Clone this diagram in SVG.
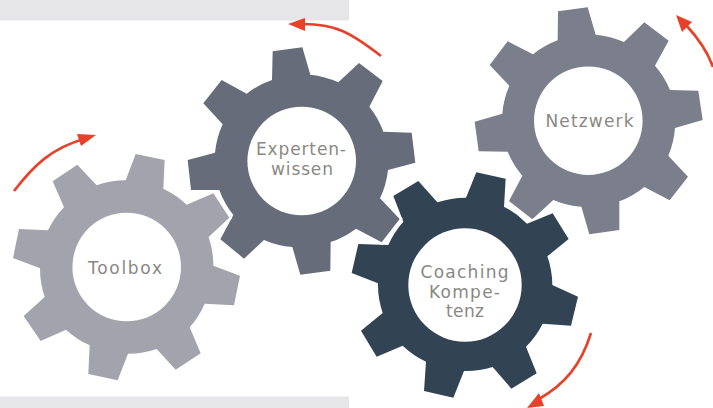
<svg xmlns="http://www.w3.org/2000/svg" width="713" height="408" viewBox="0 0 713 408">
<style>
.band{fill:#e6e6e8}
.gear{stroke:#fff;stroke-width:14;stroke-linejoin:miter;paint-order:stroke}
.hole{fill:#fff}
.lbl{font-family:"DejaVu Sans","Liberation Sans",sans-serif;font-size:17px;fill:#8a8883;text-anchor:start}
.arc{fill:none;stroke:#e8412a;stroke-width:2.6}
.head{fill:#e8412a}
</style>
<rect class="band" x="0" y="0" width="349" height="20.5"/>
<rect class="band" x="0" y="396.5" width="349" height="11.5"/>
<g id="netzwerk">
<path class="gear" transform="translate(460 0) scale(.33333)" style="stroke:none" fill="#7b7f8b" d="M293 121L294 34L383 22L407 104A262 262 0 0 1 492 126L553 67L626 122L585 197A262 262 0 0 1 630 270L715 272L728 360L645 384A262 262 0 0 1 625 467L684 530L629 601L553 561A262 262 0 0 1 478 604L478 690L388 703L364 620A262 262 0 0 1 280 600L217 658L147 603L187 527A262 262 0 0 1 143 455L56 454L44 365L127 341A262 262 0 0 1 148 257L89 195L143 124L219 163A262 262 0 0 1 293 121Z"/>
<circle class="hole" cx="588.3" cy="120.7" r="54.3"/>
<text class="lbl" x="545.5" y="126.7" textLength="88">Netzwerk</text>
</g>
<g id="coaching">
<path class="gear" transform="translate(340 165) scale(.33333)" fill="#324353" d="M378 98L409 22L497 41L492 125A262 262 0 0 1 561 176L638 145L686 222L622 274A262 262 0 0 1 637 360L714 395L693 482L608 476A262 262 0 0 1 558 545L590 625L514 671L458 606A262 262 0 0 1 372 618L340 698L252 678L258 590A262 262 0 0 1 188 542L110 575L63 497L128 444A262 262 0 0 1 114 355L35 324L55 237L145 240A262 262 0 0 1 190 170L160 93L235 48L292 112A262 262 0 0 1 378 98Z"/>
<circle class="hole" cx="465" cy="285" r="56.7"/>
<text class="lbl" x="420.5" y="278" textLength="88">Coaching</text>
<text class="lbl" x="429" y="298" textLength="71">Kompe-</text>
<text class="lbl" x="446" y="317" textLength="38">tenz</text>
</g>
<g id="experten">
<path class="gear" transform="translate(180 0) scale(.33333)" fill="#666c79" d="M276 240L278 154L367 142L391 224A262 262 0 0 1 475 247L537 189L608 243L568 320A262 262 0 0 1 610 395L695 398L706 488L624 510A262 262 0 0 1 600 595L659 657L605 727L528 686A262 262 0 0 1 452 726L451 812L361 824L337 741A262 262 0 0 1 252 720L192 776L121 718L160 645A262 262 0 0 1 118 570L33 570L23 480L105 458A262 262 0 0 1 128 373L70 310L125 240L200 281A262 262 0 0 1 276 240Z"/>
<circle class="hole" cx="301.7" cy="161" r="54.3"/>
<text class="lbl" x="256" y="155" textLength="90">Experten-</text>
<text class="lbl" x="271" y="175" textLength="62">wissen</text>
</g>
<g id="toolbox">
<path class="gear" transform="translate(0 120) scale(.33333)" fill="#a3a3ad" d="M377 181L407 102L494 120L490 206A262 262 0 0 1 560 254L640 220L688 293L626 351A262 262 0 0 1 640 437L720 467L702 556L614 551A262 262 0 0 1 569 622L602 700L527 749L470 687A262 262 0 0 1 384 701L353 781L265 762L269 676A262 262 0 0 1 198 629L122 663L71 588L134 531A262 262 0 0 1 120 445L39 414L57 327L144 331A262 262 0 0 1 192 262L158 184L232 134L290 196A262 262 0 0 1 377 181Z"/>
<circle class="hole" cx="126.7" cy="267" r="54.3"/>
<text class="lbl" x="88" y="274" textLength="74">Toolbox</text>
</g>
<g id="connectors">
<path class="arc" d="M14 191C34 165 52 148 84 139"/>
<polygon class="head" points="96,135 77,134 81,146"/>
<path class="arc" d="M381 56C350 32 335 24 303 24"/>
<polygon class="head" points="288,24 305,18 305,31"/>
<path class="arc" d="M713 67C707 50 698 38 686 25"/>
<polygon class="head" points="676,15 692,22 682,32"/>
<path class="arc" d="M591 333C581 365 565 384 539 399"/>
<polygon class="head" points="527,408 539,393 544,406"/>
</g>
</svg>
